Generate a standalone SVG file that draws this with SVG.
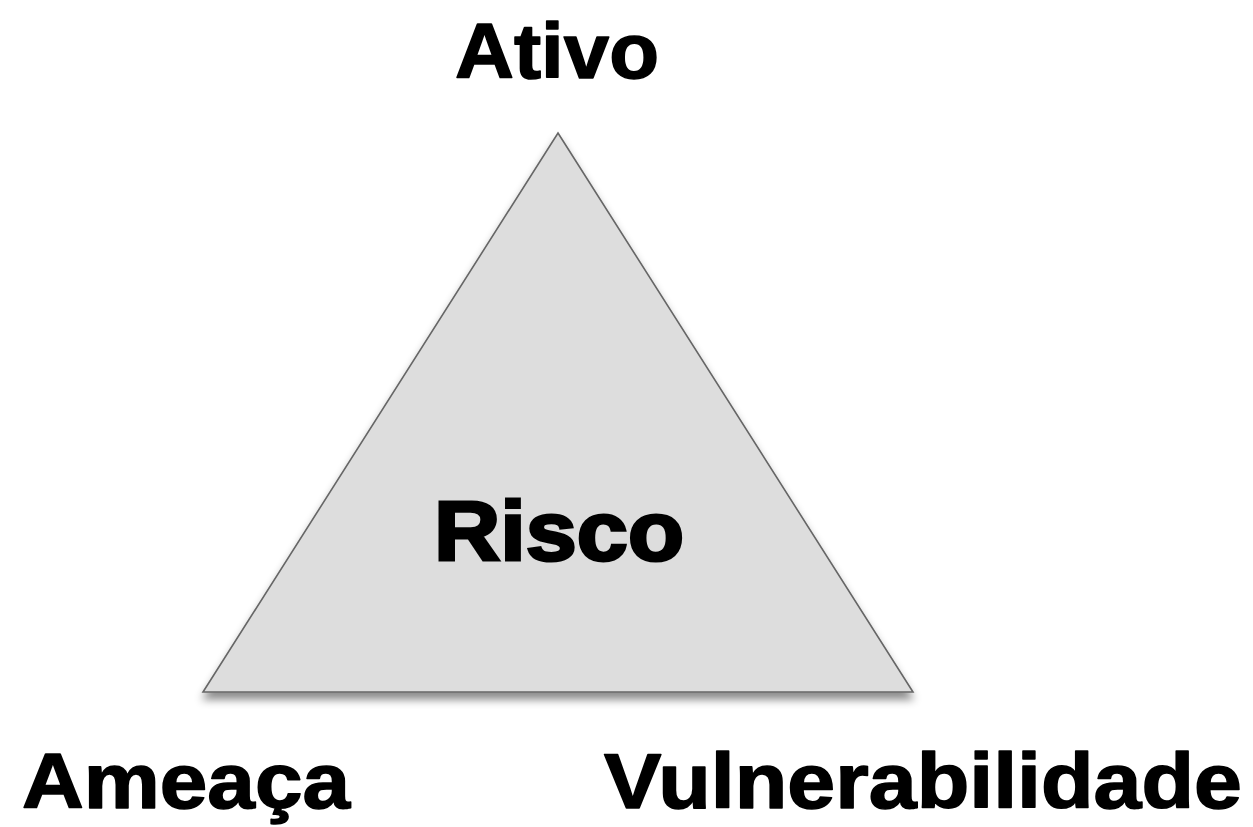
<svg xmlns="http://www.w3.org/2000/svg" width="1253" height="827" viewBox="0 0 1253 827">
<defs>
<style>
.lbl{font-family:"Liberation Sans",Arial,sans-serif;font-weight:bold;font-size:78px;fill:#000;stroke:#000;stroke-width:1.5;stroke-linejoin:round}
.ctr{font-family:"Liberation Sans",Arial,sans-serif;font-weight:bold;font-size:84px;fill:#000;stroke:#000;stroke-width:3}
</style>
<filter id="sh" x="-10%" y="-10%" width="120%" height="130%">
<feDropShadow dx="0" dy="7" stdDeviation="4" flood-color="#000" flood-opacity="0.45"/>
</filter>
</defs>
<rect width="1253" height="827" fill="#fff"/>
<g id="triangle">
<polygon points="558,133 913,692 203,692" fill="#dddddd" stroke="#666" stroke-width="1.6" filter="url(#sh)"/>
<text class="ctr" x="559" y="560" text-anchor="middle" textLength="250" lengthAdjust="spacingAndGlyphs">Risco</text>
</g>
<g id="ativo"><text class="lbl" x="557" y="78" text-anchor="middle" textLength="204" lengthAdjust="spacingAndGlyphs">Ativo</text></g>
<g id="ameaca"><text class="lbl" x="22" y="808" textLength="328" lengthAdjust="spacingAndGlyphs">Ameaça</text></g>
<g id="vulnerabilidade"><text class="lbl" x="604" y="808" textLength="638" lengthAdjust="spacingAndGlyphs">Vulnerabilidade</text></g>
<g id="connectors"/>
</svg>
